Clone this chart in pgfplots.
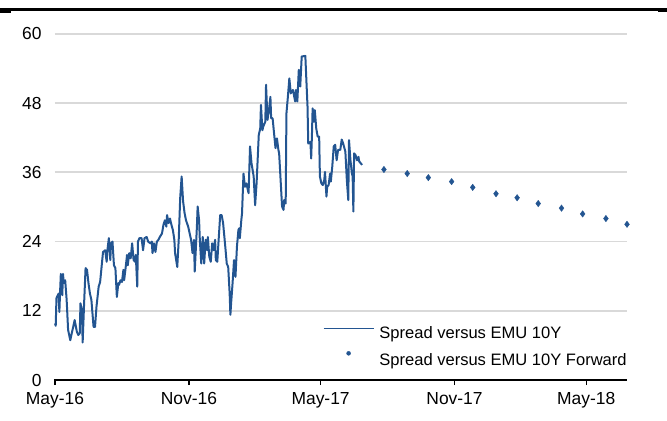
\documentclass[border=0pt]{standalone}
\usepackage{fontspec}
\setmainfont{Liberation Sans}
\usepackage{pgfplots}
\pgfplotsset{compat=1.18}
\definecolor{ser}{RGB}{35,85,145}
\definecolor{grd}{RGB}{217,217,217}

\begin{document}
\begin{tikzpicture}
\useasboundingbox (0,0) rectangle (667bp,421bp);
% thick rule across the top
\fill (0bp,408.2bp) rectangle (11bp,413.3bp);
\fill (0bp,410.3bp) rectangle (667bp,413.3bp);
\fill (658bp,408.5bp) rectangle (667bp,413.3bp);
\begin{axis}[
  at={(55bp,41bp)}, anchor=south west,
  scale only axis, width=572bp, height=346bp,
  xmin=0, xmax=786, ymin=0, ymax=60,
  axis x line*=bottom, axis y line*=left,
  y axis line style={draw=none},
  x axis line style={line width=1.5bp, black, shorten <=-1bp},
  xtick={0,184,365,549,730},
  xticklabels={May-16,Nov-16,May-17,Nov-17,May-18},
  ytick={0,12,24,36,48,60},
  ymajorgrids,
  major grid style={grd, line width=1.8bp},
  tick align=outside,
  major tick length=5bp,
  xtick style={line width=1.3bp, black},
  ytick style={draw=none},
  tick label style={font=\fontsize{17.5}{20}\selectfont},
  /pgf/number format/assume math mode=true,
  yticklabel style={anchor=east, xshift=-5bp},
  xticklabel style={anchor=north, yshift=-4bp},
  clip=false,
  legend style={at={(axis cs:368,10.0)}, anchor=north west,
    draw=none, fill=none, inner sep=0pt, outer sep=0pt,
    row sep=7bp, column sep=5bp,
    font=\fontsize{16.6}{19}\selectfont,
    nodes={inner sep=0pt, text height=12.5bp, text depth=3.5bp}},
  legend cell align=left,
]
\addplot[ser, line width=2bp, line join=round,
  legend image code/.code={\path[draw=none, fill=none] (0bp,0bp) rectangle (50bp,12bp);
    \draw[ser, line width=1.6bp] (0bp,6bp) -- (50bp,6bp);}]
coordinates {
(0,9.8) (1,9.4) (2,14.2) (5,15.0) (6,11.8) (7,15.3) (8,18.4) (10,14.7)
(11,18.4) (12,16.8) (14,17.3) (16,13.9) (18,8.7) (21,6.9) (23,8.1) (25,9.2)
(27,10.4) (30,8.4) (32,7.8) (34,8.1) (35,13.3) (37,12.1) (38,6.5) (40,13.3)
(42,19.4) (44,19.1) (46,16.8) (48,15.0) (50,13.9) (53,9.2) (55,9.2) (57,12.7)
(60,16.2) (62,17.0) (64,19.6) (66,22.2) (69,22.5) (71,20.5) (72,22.5) (74,24.6)
(76,20.8) (77,23.7) (79,24.0) (81,19.9) (83,19.4) (85,14.4) (87,16.8) (88,16.5)
(90,17.3) (92,17.0) (94,19.1) (95,17.3) (97,19.4) (99,21.7) (100,19.9) (102,22.0)
(104,21.1) (106,23.7) (108,20.8) (110,20.5) (111,21.7) (113,16.2) (114,24.0) (116,24.6)
(119,24.6) (121,22.5) (123,24.6) (126,24.8) (128,24.0) (131,23.7) (133,24.0) (134,22.0)
(136,23.7) (138,22.2) (140,24.0) (142,24.3) (144,24.8) (147,25.4) (149,26.9) (151,27.7)
(153,26.6) (154,28.6) (156,27.2) (158,28.0) (160,26.9) (162,26.0) (164,24.3) (165,22.0)
(168,19.6) (170,24.3) (172,31.5) (174,35.3) (176,31.0) (178,29.0) (180,27.7) (183,26.6)
(187,24.3) (189,22.0) (191,24.3) (192,18.8) (195,26.6) (196,30.1) (198,27.7) (199,24.3)
(201,20.2) (203,24.8) (205,20.2) (207,24.3) (209,22.5) (210,24.8) (212,21.4) (214,20.5)
(216,23.7) (218,22.5) (220,24.3) (221,20.8) (223,20.5) (225,24.6) (227,28.6) (229,28.6)
(231,27.2) (234,23.1) (236,20.2) (238,19.6) (240,15.0) (241,11.3) (242,13.3) (244,16.8)
(246,20.8) (248,17.9) (250,23.1) (252,26.0) (253,26.3) (254,24.6) (256,27.7) (257,28.9)
(259,35.8) (261,33.5) (263,34.1) (266,32.4) (268,40.5) (270,37.6) (273,35.3) (275,30.3)
(277,34.1) (280,42.5) (282,43.6) (283,47.7) (285,43.3) (286,43.9) (289,44.8) (290,51.2)
(292,45.1) (294,46.8) (296,49.1) (297,45.4) (299,45.4) (301,42.8) (303,40.2) (305,41.9)
(307,39.9) (308,39.3) (310,34.7) (312,30.1) (314,29.5) (315,31.2) (317,30.6) (318,46.2)
(320,49.1) (322,52.3) (324,49.7) (327,50.3) (330,48.3) (331,50.3) (333,48.3) (335,53.8)
(337,50.9) (339,56.1) (344,56.2) (345,53.2) (347,47.4) (348,41.0) (351,41.3) (352,38.4)
(353,42.2) (354,47.1) (356,44.8) (357,46.8) (359,43.6) (361,42.2) (363,42.2) (364,35.3)
(366,34.1) (368,33.8) (370,34.7) (371,36.1) (373,31.8) (374,33.5) (376,33.8) (378,35.8)
(379,34.4) (381,37.0) (383,40.5) (385,40.8) (387,38.1) (389,39.9) (392,39.9) (394,41.7)
(396,41.0) (399,39.6) (401,34.7) (403,31.2) (404,41.6) (406,38.1) (408,35.8) (409,35.3)
(410,29.2) (411,39.3) (413,39.0) (415,38.1) (417,38.7) (418,37.9) (420,37.6) (422,37.3)
};
\addlegendentry{Spread versus EMU 10Y}
\addplot[only marks, mark=diamond*, mark size=3.2bp, color=ser,
  legend image code/.code={\path[draw=none, fill=none] (0bp,0bp) rectangle (50bp,12bp);
    \fill[ser] (25bp,8bp) circle (2bp);}]
coordinates {
(452,36.5) (484,35.8) (513,35.1) (545,34.4) (574,33.4) (606,32.3)
(635,31.6) (664,30.6) (696,29.8) (725,28.8) (757,28.0) (786,27.0)
};
\addlegendentry{Spread versus EMU 10Y Forward}
\end{axis}
\end{tikzpicture}
\end{document}
